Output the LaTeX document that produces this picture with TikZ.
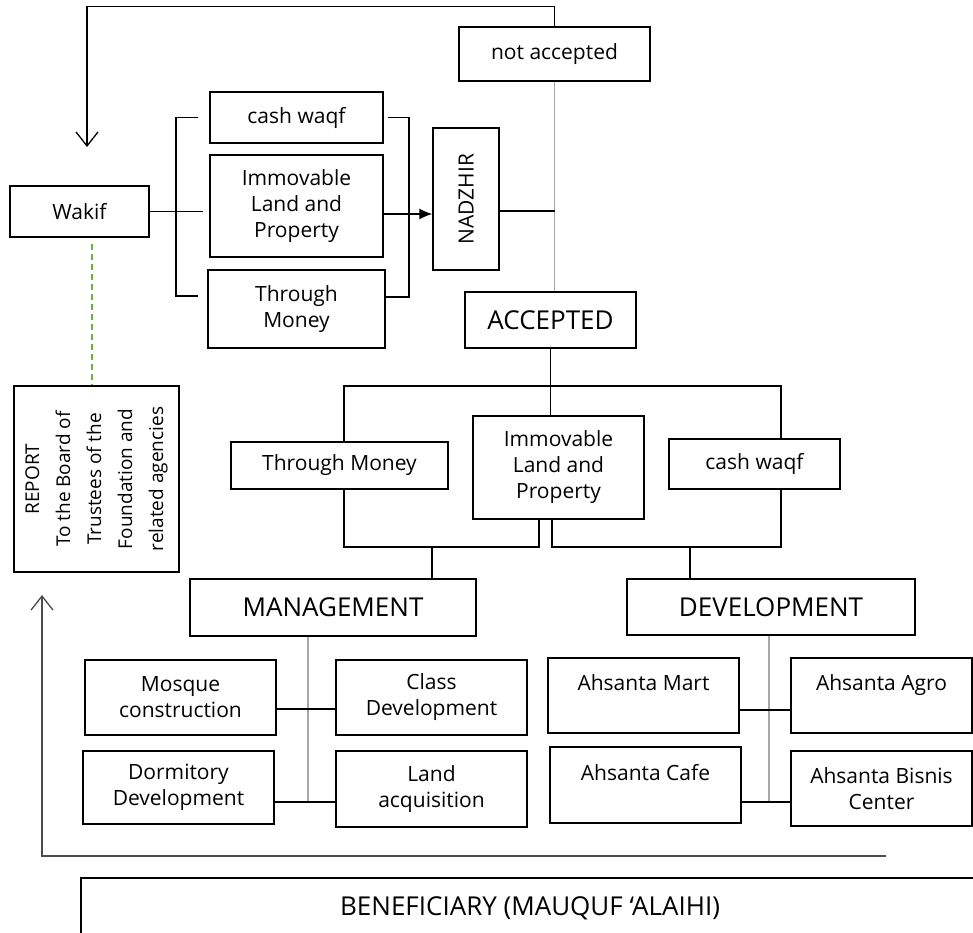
\documentclass[tikz,border=0pt]{standalone}
\usepackage{fontspec}
\setmainfont{Open Sans}
\usetikzlibrary{arrows.meta, positioning, calc}
\newcommand\basefont{\fontsize{21}{26}\selectfont}
\newcommand\headfont{\fontsize{26}{30}\selectfont}
\newcommand\reportfont{\fontsize{19}{31}\selectfont}
\definecolor{dashgreen}{RGB}{112,173,71}

\begin{document}
\begin{tikzpicture}[
  x=1pt, y=-1pt, % pixel grid of the original, y runs down
  box/.style={draw, line width=1.4pt, inner sep=2pt, align=center, font=\basefont},
  head/.style={box, font=\headfont},
  link/.style={draw, line width=1.3pt},
  greyline/.style={draw, line width=1.3pt, gray!70},
  barb/.style={link, -{Straight Barb[length=14pt, width=22pt]}}]

  \useasboundingbox (0,0) rectangle (973,932);
  \clip (0,0) rectangle (973,932);

  \node[box, minimum width=191pt, minimum height=54pt] (notacc) at (554.5,54) {not accepted};
  \node[box, minimum width=173pt, minimum height=51pt] (cashA) at (296.5,117.5) {cash waqf};
  \node[box, minimum width=173pt, minimum height=102pt] (immA) at (296.5,206) {Immovable\\Land and\\Property};
  \node[box, minimum width=177pt, minimum height=78pt] (moneyA) at (296.5,309) {Through\\Money};
  \node[box, minimum width=139pt, minimum height=51pt] (wakif) at (79.5,211.5) {Wakif};
  \node[box, rotate=90, minimum width=142pt, minimum height=66pt] (nadzhir) at (466,199) {NADZHIR};
  \node[head, minimum width=171pt, minimum height=56pt] (accepted) at (550.5,320) {ACCEPTED};

  \node[box, minimum width=217pt, minimum height=47pt] (moneyB) at (339.5,465.5) {Through Money};
  \node[box, minimum width=171pt, minimum height=103pt] (immB) at (558.5,467.5) {Immovable\\Land and\\Property};
  \node[box, minimum width=171pt, minimum height=50pt] (cashB) at (754.5,464) {cash waqf};
  \node[box, rotate=90, minimum width=186pt, minimum height=165pt, font=\reportfont] (report) at (96.5,479)
    {REPORT\\To the Board of\\Trustees of the\\Foundation and\\related agencies};

  \node[head, minimum width=286pt, minimum height=57pt] (mgmt) at (333,607.5) {MANAGEMENT};
  \node[head, minimum width=288pt, minimum height=56pt] (dev) at (771,607) {DEVELOPMENT};

  \node[box, minimum width=191pt, minimum height=75pt] (mosque) at (180.5,697.5) {Mosque\\construction};
  \node[box, minimum width=191pt, minimum height=75pt] (classdev) at (431.5,697.5) {Class\\Development};
  \node[box, minimum width=191pt, minimum height=73pt] (dorm) at (178.5,787.5) {Dormitory\\Development};
  \node[box, minimum width=191pt, minimum height=76pt] (land) at (431.5,789) {Land\\acquisition};
  \node[box, minimum width=191pt, minimum height=75pt] (mart) at (643.5,695.5) {Ahsanta Mart\\\mbox{}};
  \node[box, minimum width=181pt, minimum height=75pt] (agro) at (881.5,695.5) {Ahsanta Agro\\\mbox{}};
  \node[box, minimum width=191pt, minimum height=76pt] (cafe) at (645.5,785) {Ahsanta Cafe\\\mbox{}};
  \node[box, minimum width=181pt, minimum height=75pt] (bisnis) at (881.5,788.5) {Ahsanta Bisnis\\Center};
  \node[box, minimum width=898pt, minimum height=60pt, font=\headfont] (benef) at (530,908) {BENEFICIARY (MAUQUF ‘ALAIHI)};

  \coordinate (loopTip) at (87,147);
  \draw[barb] (notacc.north) -- ++(0,-20) -| (loopTip);
  \draw[greyline] (notacc.south) -- (notacc.south |- accepted.north);
  \coordinate (nj) at (554.5,211);
  \draw[link] ([yshift=-12pt]nadzhir.south) -- (nj);

  \draw[link] (wakif.east) -- ++(53,0);
  \coordinate (brL) at (176,296);
  \draw[link] ([xshift=-11pt]cashA.west) -| (brL) -- ([xshift=-9pt]moneyA.west |- brL);
  \coordinate (brR) at (409,297);
  \draw[link] ([xshift=4pt]cashA.east) -| (brR) -- (moneyA.east |- brR);
  \draw[link, -{Latex[length=13pt, width=11pt]}] ([yshift=-8pt]immA.east) -- ([yshift=-15pt]nadzhir.north);
  \draw[line width=1.2pt, dashgreen, dash pattern=on 6pt off 4pt] ([xshift=12.5pt, yshift=-6pt]wakif.south) -- ([xshift=12.5pt]wakif.south |- report.east);

  \draw[link] (accepted.south) -- (accepted.south |- immB.north);
  \coordinate (splitA) at (550.5,386);
  \draw[link] ([xshift=4.5pt]moneyB.north) |- (splitA) -| ([xshift=26.5pt]cashB.north);
  \coordinate (mergeL) at (432,547);
  \coordinate (mergeR) at (690,547);
  \draw[link] ([xshift=4.5pt]moneyB.south) |- (mergeL) -| ([xshift=-19.5pt]immB.south);
  \draw[link] (mergeL) -- (mergeL |- mgmt.north);
  \draw[link] ([xshift=-6.5pt]immB.south) |- (mergeR) -| ([xshift=26.5pt]cashB.south);
  \draw[link] (mergeR) -- (mergeR |- dev.north);

  \coordinate (mj1) at (308,709);
  \coordinate (mj2) at (308,802);
  \draw[greyline] (mj1 |- mgmt.south) -- (mj2);
  \draw[link] (mosque.east |- mj1) -- (classdev.west |- mj1);
  \draw[link] (dorm.east |- mj2) -- (land.west |- mj2);

  \coordinate (dj1) at (769,710);
  \coordinate (dj2) at (769,802);
  \draw[greyline] (dj1 |- dev.south) -- (dj2);
  \draw[link] (mart.east |- dj1) -- (agro.west |- dj1);
  \draw[link] (cafe.east |- dj2) -- (bisnis.west |- dj2);

  \coordinate (retStart) at (886,856);
  \coordinate (retTip) at (42,595);
  \draw[barb, gray!60!black] (retStart) -| (retTip);
\end{tikzpicture}
\end{document}
